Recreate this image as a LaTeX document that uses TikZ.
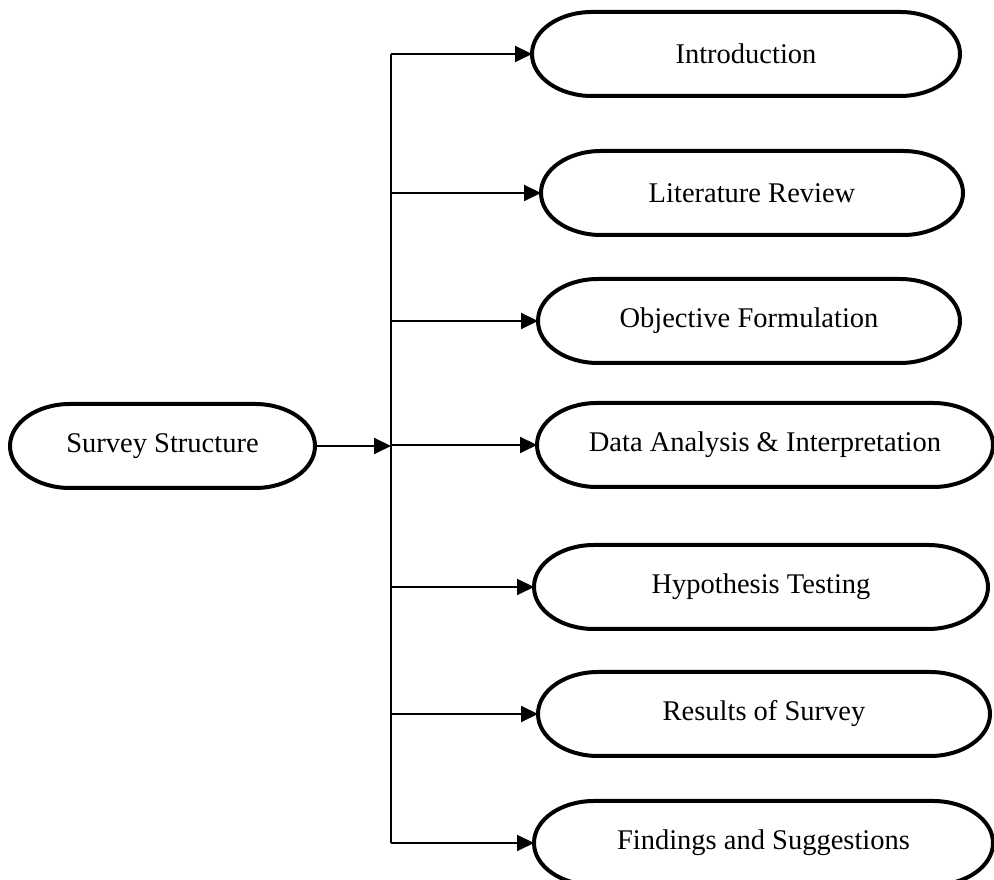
\documentclass[tikz,border=0pt]{standalone}
\usepackage{fontspec}
\setmainfont{Liberation Serif}
\usepackage{tikz}
\usetikzlibrary{arrows.meta, positioning}

\begin{document}
\begin{tikzpicture}[x=1pt,y=1pt,outer sep=0pt]
    \tikzstyle{stage}=[minimum height=84pt,inner sep=0pt,font=\fontsize{28.5}{34}\selectfont]
    \tikzstyle{outline}=[line width=4pt,line join=round]
    \tikzstyle{branch}=[line width=2pt,-{Triangle[length=17pt,width=16pt]}]

    \useasboundingbox (0,0) rectangle (994,880);

    \node[stage,minimum width=305pt] (S) at (162.5,434) {Survey Structure};

    \node[stage,minimum width=428pt] (intro) at (746,826) {Introduction};
    \node[stage,minimum width=422pt] (lit) at (752,687) {Literature Review};
    \node[stage,minimum width=422pt] (obj) at (749,559) {Objective Formulation};
    \node[stage,minimum width=456pt] (data) at (765,435) {Data Analysis \& Interpretation};
    \node[stage,minimum width=454pt] (hyp) at (761,293) {Hypothesis Testing};
    \node[stage,minimum width=452pt] (res) at (764,166) {Results of Survey};
    \node[stage,minimum width=459pt] (find) at (763.5,37) {Findings and Suggestions};

    \coordinate (trunk) at (391,434);

    % rounded outlines with flat ends
    \foreach \n in {S,intro,lit,obj,data,hyp,res,find}
      \draw[outline] ([xshift=60pt]\n.north west) -- ([xshift=-60pt]\n.north east)
        arc[start angle=90,end angle=-90,x radius=60pt,y radius=42pt]
        -- ([xshift=60pt]\n.south west)
        arc[start angle=270,end angle=90,x radius=60pt,y radius=42pt] -- cycle;

    \draw[line width=2pt] (intro.west -| trunk) -- (find.west -| trunk);
    \draw[branch] (S) -- (trunk);
    \foreach \n in {intro,lit,obj,data,hyp,res,find}
      \draw[branch] (\n.west -| trunk) -- (\n);

\end{tikzpicture}
\end{document}
